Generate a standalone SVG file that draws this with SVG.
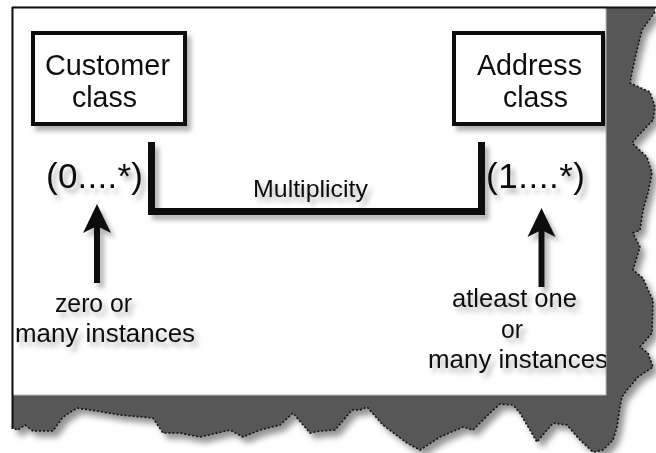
<svg xmlns="http://www.w3.org/2000/svg" width="656" height="453" viewBox="0 0 656 453">
  <defs>
    <filter id="sh" x="-20%" y="-20%" width="140%" height="140%">
      <feDropShadow dx="4" dy="5" stdDeviation="2.5" flood-color="#000" flood-opacity="0.3"/>
    </filter>
    <filter id="blur" x="-10%" y="-10%" width="120%" height="120%">
      <feGaussianBlur stdDeviation="3"/>
    </filter>
  </defs>
  <style>
    text { font-family: "Liberation Sans", Arial, sans-serif; fill: #111; }
    .big { font-size: 29px; }
    .mul { font-size: 35px; }
    .lbl { font-size: 24px; }
    .note { font-size: 26px; }
    .box { fill: #fff; stroke: #111; stroke-width: 4; }
    .conn { fill: none; stroke: #111; stroke-width: 7; stroke-linejoin: miter; stroke-linecap: butt; }
    .arrow { fill: #111; }
    .edge { fill: none; stroke: #111; stroke-width: 1.6; stroke-dasharray: 2 2; }
  </style>

  <rect x="0" y="0" width="656" height="453" fill="#fff"/>

  <!-- torn-paper background -->
  <g id="frame">
    <polygon filter="url(#blur)" fill="#777" opacity="0.8" transform="translate(5,6)"
      points="12,8 655,8 655,12 642,30 637,50 632,72 630,83 650,92 655,107 653,120 637,137 632,143 647,157 652,173 648,193 643,210 640,230 633,233 640,247 633,270 643,278 648,290 653,300 652,333 640,347 648,353 653,367 638,377 627,390 622,397 620,407 617,427 613,440 603,450 593,452 580,440 567,425 553,423 537,442 520,413 513,405 500,404 490,413 473,430 463,427 440,437 420,450 407,443 383,425 367,407 360,410 352,410 335,430 320,431 310,433 293,413 280,425 260,430 243,437 230,430 200,437 180,433 163,433 153,418 143,417 120,415 97,411 77,408 63,417 53,431 33,431 25,425 18,430 12,428"/>
    <polygon fill="#575757"
      points="12,8 655,8 655,12 642,30 637,50 632,72 630,83 650,92 655,107 653,120 637,137 632,143 647,157 652,173 648,193 643,210 640,230 633,233 640,247 633,270 643,278 648,290 653,300 652,333 640,347 648,353 653,367 638,377 627,390 622,397 620,407 617,427 613,440 603,450 593,452 580,440 567,425 553,423 537,442 520,413 513,405 500,404 490,413 473,430 463,427 440,437 420,450 407,443 383,425 367,407 360,410 352,410 335,430 320,431 310,433 293,413 280,425 260,430 243,437 230,430 200,437 180,433 163,433 153,418 143,417 120,415 97,411 77,408 63,417 53,431 33,431 25,425 18,430 12,428"/>
    <polyline class="edge"
      points="655,12 642,30 637,50 632,72 630,83 650,92 655,107 653,120 637,137 632,143 647,157 652,173 648,193 643,210 640,230 633,233 640,247 633,270 643,278 648,290 653,300 652,333 640,347 648,353 653,367 638,377 627,390 622,397 620,407 617,427 613,440 603,450 593,452 580,440 567,425 553,423 537,442 520,413 513,405 500,404 490,413 473,430 463,427 440,437 420,450 407,443 383,425 367,407 360,410 352,410 335,430 320,431 310,433 293,413 280,425 260,430 243,437 230,430 200,437 180,433 163,433 153,418 143,417 120,415 97,411 77,408 63,417 53,431 33,431 25,425 18,430 12,428"/>
    <rect x="12" y="7" width="594" height="388" fill="#fff" stroke="#bbb" stroke-width="1"/>
    <line x1="12" y1="7.5" x2="656" y2="7.5" stroke="#111" stroke-width="2"/>
    <line x1="12.5" y1="7" x2="12.5" y2="429" stroke="#111" stroke-width="2"/>
  </g>

  <clipPath id="panel"><rect x="12" y="7" width="594" height="388"/></clipPath>

  <g clip-path="url(#panel)">
    <g id="connectors" filter="url(#sh)">
      <path class="conn" d="M151.5,142 V211.5 H481.5 V142"/>
      <g id="arrow-left">
        <rect class="arrow" x="94" y="224" width="6" height="59"/>
        <polygon class="arrow" points="97,204 111,233 97,226 83,233"/>
      </g>
      <g id="arrow-right">
        <rect class="arrow" x="538.5" y="228" width="6" height="59"/>
        <polygon class="arrow" points="541.5,208 555.5,237 541.5,230 527.5,237"/>
      </g>
    </g>

    <g id="customer" filter="url(#sh)">
      <rect class="box" x="33" y="33" width="152" height="91"/>
      <text class="big" x="45" y="75" textLength="125" lengthAdjust="spacingAndGlyphs">Customer</text>
      <text class="big" x="72" y="107" textLength="65" lengthAdjust="spacingAndGlyphs">class</text>
    </g>

    <g id="address" filter="url(#sh)">
      <rect class="box" x="454" y="33" width="149" height="91"/>
      <text class="big" x="477" y="75" textLength="105" lengthAdjust="spacingAndGlyphs">Address</text>
      <text class="big" x="503" y="107" textLength="65" lengthAdjust="spacingAndGlyphs">class</text>
    </g>

    <g id="mult-left" filter="url(#sh)">
      <text class="mul" x="46" y="188" textLength="97" lengthAdjust="spacing">(0....*)</text>
    </g>
    <g id="mult-right" filter="url(#sh)">
      <text class="mul" x="486" y="188" textLength="99" lengthAdjust="spacing">(1....*)</text>
    </g>
    <g id="multiplicity" filter="url(#sh)">
      <text class="lbl" x="253" y="197" textLength="115" lengthAdjust="spacingAndGlyphs">Multiplicity</text>
    </g>

    <g id="note-left" filter="url(#sh)">
      <text class="note" x="55" y="312" textLength="77" lengthAdjust="spacingAndGlyphs">zero or</text>
      <text class="note" x="15" y="342" textLength="180" lengthAdjust="spacingAndGlyphs">many instances</text>
    </g>
    <g id="note-right" filter="url(#sh)">
      <text class="note" x="452" y="307" textLength="125" lengthAdjust="spacingAndGlyphs">atleast one</text>
      <text class="note" x="501" y="338" textLength="22" lengthAdjust="spacingAndGlyphs">or</text>
      <text class="note" x="428" y="368" textLength="180" lengthAdjust="spacingAndGlyphs">many instances</text>
    </g>
  </g>
</svg>
